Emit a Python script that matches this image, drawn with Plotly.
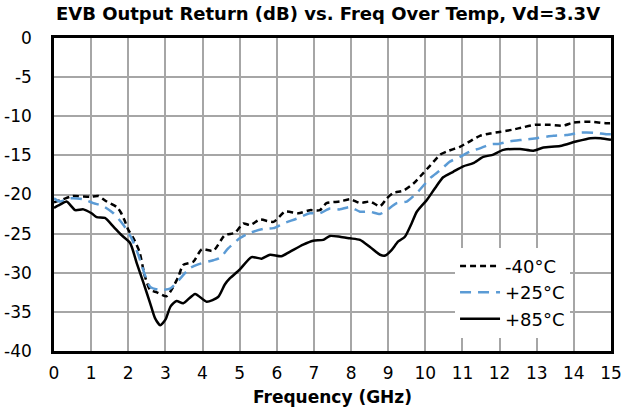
import plotly.graph_objects as go

# ---- data ----
freq_m40 = [0, 0.25, 0.5, 0.97, 1.19, 1.42, 1.69, 1.8, 1.9, 2.0, 2.14, 2.3, 2.45, 2.59, 2.77, 3.03,
            3.21, 3.35, 3.48, 3.75, 3.98, 4.29, 4.6, 4.87, 5.1, 5.28, 5.55, 5.91, 6.22, 6.58, 6.89,
            7.16, 7.34, 7.7, 7.97, 8.24, 8.51, 8.78, 8.96, 9.14, 9.41, 9.68, 9.86, 10.13, 10.4,
            10.58, 10.93, 11.2, 11.47, 11.74, 12.0, 12.37, 12.64, 12.95, 13.36, 13.72, 13.99,
            14.45, 14.88, 15.0]
rl_m40 = [-21.0, -20.6, -20.2, -20.3, -20.2, -20.9, -21.6, -22.3, -23.3, -24.5, -25.6, -27.3, -30.5,
          -32.2, -32.5, -33.0, -31.8, -30.5, -29.0, -28.6, -27.0, -27.2, -25.2, -24.9, -23.7, -23.9,
          -23.2, -23.5, -22.2, -22.4, -22.0, -22.0, -21.1, -20.9, -20.6, -21.1, -20.9, -21.5, -20.5,
          -19.8, -19.5, -18.6, -17.7, -16.3, -14.9, -14.5, -13.9, -13.2, -12.5, -12.2, -12.0, -11.7,
          -11.4, -11.1, -11.1, -11.2, -10.8, -10.7, -10.9, -10.9]

freq_p25 = [0, 0.16, 0.43, 0.79, 1.06, 1.33, 1.6, 1.87, 2.09, 2.27, 2.45, 2.59, 2.86, 3.14, 3.35,
            3.66, 3.9, 4.29, 4.47, 4.69, 5.0, 5.28, 5.64, 5.91, 6.18, 6.53, 6.89, 7.16, 7.43, 7.7,
            7.97, 8.24, 8.51, 8.78, 8.96, 9.23, 9.5, 9.81, 10.13, 10.4, 10.66, 10.93, 11.2, 11.47,
            11.74, 12.0, 12.28, 12.64, 13.0, 13.45, 13.8, 14.17, 14.53, 14.88, 15.0]
rl_p25 = [-20.5, -20.9, -20.5, -20.6, -21.1, -21.5, -22.4, -23.9, -25.6, -27.7, -30.3, -31.8, -32.2,
          -32.0, -31.0, -29.4, -28.9, -28.4, -28.1, -26.9, -25.6, -24.9, -24.4, -24.3, -23.7, -23.1,
          -22.4, -22.4, -21.8, -21.9, -21.6, -22.2, -22.2, -22.5, -22.0, -21.1, -20.9, -19.6, -17.9,
          -16.9, -15.8, -15.2, -14.5, -14.1, -13.6, -13.5, -13.2, -13.0, -12.8, -12.5, -12.4, -12.1,
          -12.1, -12.3, -12.3]

freq_p85 = [0, 0.16, 0.34, 0.57, 0.79, 1.01, 1.15, 1.37, 1.6, 1.82, 2.05, 2.23, 2.41, 2.59, 2.72,
            2.86, 3.0, 3.14, 3.3, 3.48, 3.8, 4.11, 4.42, 4.6, 4.74, 5.0, 5.32, 5.59, 5.82, 6.12, 6.36,
            6.71, 6.98, 7.25, 7.43, 7.7, 7.97, 8.24, 8.51, 8.78, 8.92, 9.09, 9.27, 9.45, 9.63, 9.77,
            10.04, 10.26, 10.48, 10.75, 11.02, 11.29, 11.56, 11.83, 12.1, 12.55, 12.91, 13.18, 13.63,
            14.08, 14.45, 14.72, 15.0]
rl_p85 = [-21.7, -21.3, -20.9, -22.0, -21.9, -22.4, -22.9, -23.0, -24.1, -25.2, -26.2, -28.8, -31.3,
          -33.9, -35.8, -36.7, -36.0, -34.3, -33.6, -33.9, -32.7, -33.7, -33.1, -31.5, -30.7, -29.6,
          -28.0, -28.2, -27.7, -27.9, -27.3, -26.4, -25.9, -25.8, -25.3, -25.4, -25.6, -25.8, -26.7,
          -27.7, -27.8, -27.1, -26.0, -25.4, -23.7, -22.2, -20.7, -19.2, -17.8, -17.1, -16.4, -16.0,
          -15.2, -14.9, -14.3, -14.2, -14.4, -14.0, -13.8, -13.2, -12.8, -12.8, -13.0]

x_ticks = list(range(0, 16))
y_ticks = [0, -5, -10, -15, -20, -25, -30, -35, -40]

FONT = "DejaVu Sans"

fig = go.Figure()
fig.add_trace(go.Scatter(x=freq_m40, y=rl_m40, mode="lines", name="-40°C",
                         line=dict(color="black", width=2.5, dash="6px,4px", shape="spline", smoothing=0.6)))
fig.add_trace(go.Scatter(x=freq_p25, y=rl_p25, mode="lines", name="+25°C",
                         line=dict(color="#5B9BD5", width=2.5, dash="11px,7px", shape="spline", smoothing=0.6)))
fig.add_trace(go.Scatter(x=freq_p85, y=rl_p85, mode="lines", name="+85°C",
                         line=dict(color="black", width=2.5, shape="spline", smoothing=0.6)))

fig.update_layout(
    width=626, height=411,
    margin=dict(l=54, r=15, t=38, b=60),
    paper_bgcolor="white", plot_bgcolor="white",
    font=dict(family=FONT, size=17, color="black"),
    title=dict(text="<b>EVB Output Return (dB) vs. Freq Over Temp, Vd=3.3V</b>",
               x=328 / 626, xanchor="center", y=1 - 14 / 411, yanchor="middle", yref="container",
               font=dict(family=FONT, size=18, color="black")),
    showlegend=True,
    hovermode=False,
    legend=dict(x=0.72, xanchor="left", y=0.33, yanchor="top", bgcolor="white",
                font=dict(family=FONT, size=18), tracegroupgap=0, itemwidth=40),
)
fig.update_xaxes(range=[0, 15], tickvals=x_ticks, ticktext=[str(v) for v in x_ticks],
                 showgrid=True, gridcolor="#a6a6a6", gridwidth=1.5, automargin=False,
                 showline=True, linecolor="black", linewidth=2.5, mirror=True,
                 ticks="", ticklabelstandoff=5, zeroline=False,
                 title=dict(text="<b>Frequency (GHz)</b>", standoff=9, font=dict(family=FONT, size=17)))
fig.update_yaxes(range=[-40, 0], tickvals=y_ticks, ticktext=[str(v) for v in y_ticks],
                 showgrid=True, gridcolor="#a6a6a6", gridwidth=1.5, automargin=False,
                 showline=True, linecolor="black", linewidth=2.5, mirror=True,
                 ticks="", ticklabelstandoff=16, zeroline=False)

fig.write_html("out.html", config={"displayModeBar": False},
               post_script="document.body.style.margin='0';")
